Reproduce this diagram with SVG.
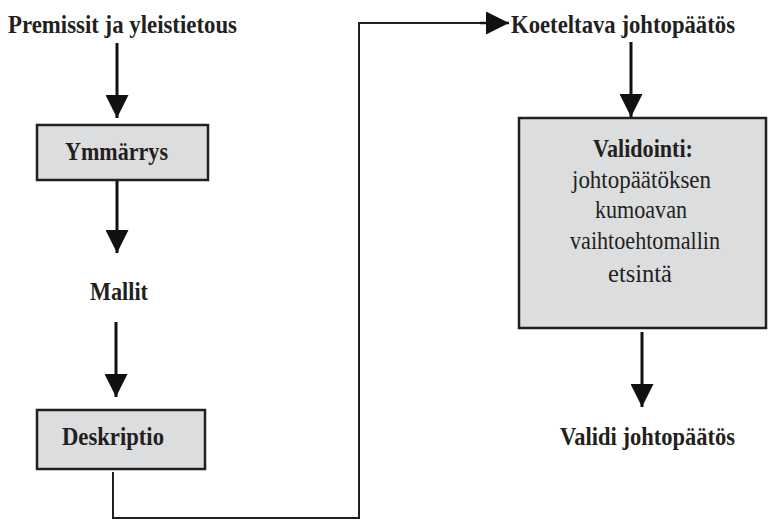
<svg xmlns="http://www.w3.org/2000/svg" width="769" height="520" viewBox="0 0 769 520">
  <defs>
    <marker id="head" markerUnits="userSpaceOnUse" markerWidth="23" markerHeight="23" refX="23" refY="11.5" orient="auto">
      <path d="M0,0 L23,11.5 L0,23 Z" fill="#111"/>
    </marker>
    <style>
      .lbl { font-family: "Liberation Serif", "Times New Roman", serif; font-size: 26px; fill: #231f20; }
      .b { font-weight: bold; }
      .box { fill: #dcddde; stroke: #231f20; stroke-width: 2.5; }
      .arrow { stroke: #111; stroke-width: 3; fill: none; marker-end: url(#head); }
      .link { stroke: #231f20; stroke-width: 2; fill: none; }
    </style>
  </defs>
  <rect width="769" height="520" fill="#fff"/>

  <g id="connectors">
    <line class="arrow" x1="117" y1="43" x2="117" y2="118"/>
    <line class="arrow" x1="117" y1="180" x2="117" y2="253"/>
    <line class="arrow" x1="116" y1="322" x2="116" y2="397"/>
    <polyline class="link" points="113,472 113,518 359,518 359,23 490,23"/>
    <line class="arrow" x1="480" y1="23" x2="509" y2="23" style="stroke-width:2.5"/>
    <line class="arrow" x1="631" y1="42" x2="631" y2="117"/>
    <line class="arrow" x1="642" y1="332" x2="642" y2="407"/>
  </g>

  <g id="premissit">
    <text class="lbl b" x="8" y="33" textLength="229" lengthAdjust="spacingAndGlyphs">Premissit ja yleistietous</text>
  </g>

  <g id="ymmarrys">
    <rect class="box" x="37" y="125" width="171" height="55"/>
    <text class="lbl b" x="65" y="160" textLength="103" lengthAdjust="spacingAndGlyphs">Ymmärrys</text>
  </g>

  <g id="mallit">
    <text class="lbl b" x="90" y="300" textLength="58" lengthAdjust="spacingAndGlyphs">Mallit</text>
  </g>

  <g id="deskriptio">
    <rect class="box" x="37" y="410" width="168" height="59"/>
    <text class="lbl b" x="62" y="445" textLength="102" lengthAdjust="spacingAndGlyphs">Deskriptio</text>
  </g>

  <g id="koeteltava">
    <text class="lbl b" x="511" y="33" textLength="224" lengthAdjust="spacingAndGlyphs">Koeteltava johtopäätös</text>
  </g>

  <g id="validointi">
    <rect class="box" x="519" y="118" width="247" height="210"/>
    <text class="lbl b" x="593" y="157" textLength="100" lengthAdjust="spacingAndGlyphs">Validointi:</text>
    <text class="lbl" x="572" y="188" textLength="139" lengthAdjust="spacingAndGlyphs">johtopäätöksen</text>
    <text class="lbl" x="595" y="218" textLength="92" lengthAdjust="spacingAndGlyphs">kumoavan</text>
    <text class="lbl" x="570" y="249" textLength="150" lengthAdjust="spacingAndGlyphs">vaihtoehtomallin</text>
    <text class="lbl" x="608" y="282" textLength="64" lengthAdjust="spacingAndGlyphs">etsintä</text>
  </g>

  <g id="validi">
    <text class="lbl b" x="560" y="445" textLength="175" lengthAdjust="spacingAndGlyphs">Validi johtopäätös</text>
  </g>
</svg>
